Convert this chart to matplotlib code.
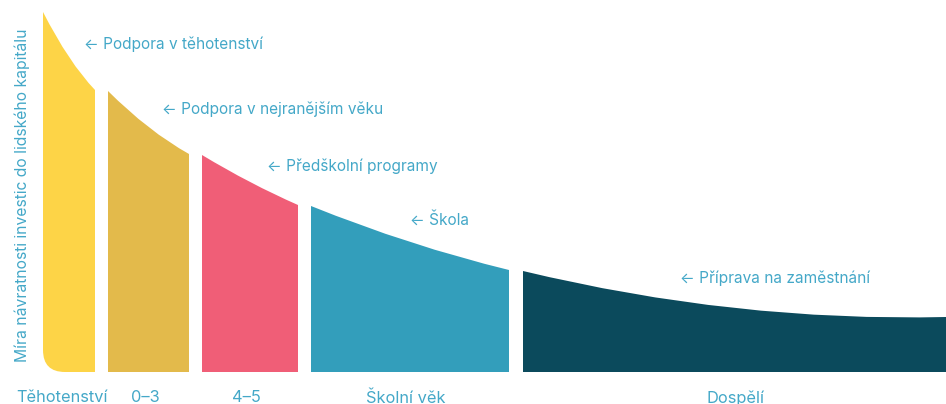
"""
Heckman-style curve: return on human capital investment by life stage.
"""
import matplotlib
matplotlib.use("Agg")
import matplotlib.pyplot as plt
from matplotlib.path import Path
from matplotlib.patches import PathPatch

# stages (left/right edge on the age axis, heights of the curve)
STAGES = ["Těhotenství", "0–3", "4–5", "Školní věk", "Dospělí"]
PROGRAMS = ["Podpora v těhotenství", "Podpora v nejranějším věku",
            "Předškolní programy", "Škola", "Příprava na zaměstnání"]
seg_left = [43, 108, 202, 311, 523]
seg_right = [95, 189, 298, 509, 946]
h_start = [360, 281, 217, 166, 101]
h_mid = [315, 245, 190, 130, 64]
h_end = [282, 218, 167, 102, 55]
stage_label_x = [62, 145, 246, 406, 735]

COLORS = ["#FDD447", "#E3BA4B", "#F05E77", "#339EBB", "#0B4A5C"]
TEXT_COLOR = "#44A8C8"
FONT = ["Inter", "DejaVu Sans"]

# program label anchors (left edge x, y)
prog_pos = [(84, 328), (162, 263), (267, 206), (410, 152), (680, 94)]

fig = plt.figure(figsize=(9.46, 4.04), dpi=100)
ax = fig.add_axes([0, 0, 1, 1])
ax.set_xlim(0, 946)
ax.set_ylim(-32, 372)
ax.axis("off")

for i in range(len(STAGES)):
    x0, x1 = seg_left[i], seg_right[i]
    xm = (x0 + x1) / 2
    # quadratic bezier control point so that the curve passes through h_mid
    cy = 2 * h_mid[i] - (h_start[i] + h_end[i]) / 2
    if i == 0:
        r = 22
        verts = [(x0, h_start[i]), (xm, cy), (x1, h_end[i]), (x1, 0),
                 (x0 + r, 0), (x0, 0), (x0, r), (x0, h_start[i])]
        codes = [Path.MOVETO, Path.CURVE3, Path.CURVE3, Path.LINETO,
                 Path.LINETO, Path.CURVE3, Path.CURVE3, Path.CLOSEPOLY]
    else:
        verts = [(x0, h_start[i]), (xm, cy), (x1, h_end[i]), (x1, 0),
                 (x0, 0), (x0, h_start[i])]
        codes = [Path.MOVETO, Path.CURVE3, Path.CURVE3, Path.LINETO,
                 Path.LINETO, Path.CLOSEPOLY]
    ax.add_patch(PathPatch(Path(verts, codes), facecolor=COLORS[i],
                           edgecolor="none"))
    ax.text(stage_label_x[i], -26, STAGES[i], ha="center", va="center",
            fontsize=11.8, color=TEXT_COLOR, family=FONT)
    px, py = prog_pos[i]
    ax.text(px, py, "← " + PROGRAMS[i], ha="left", va="center", fontsize=11.1,
            color=TEXT_COLOR, family=FONT)

ax.text(22, 177, "Míra návratnosti investic do lidského kapitálu", rotation=90,
        ha="center", va="center", fontsize=11.3, color=TEXT_COLOR, family=FONT)

fig.savefig("out.png", dpi=100)
